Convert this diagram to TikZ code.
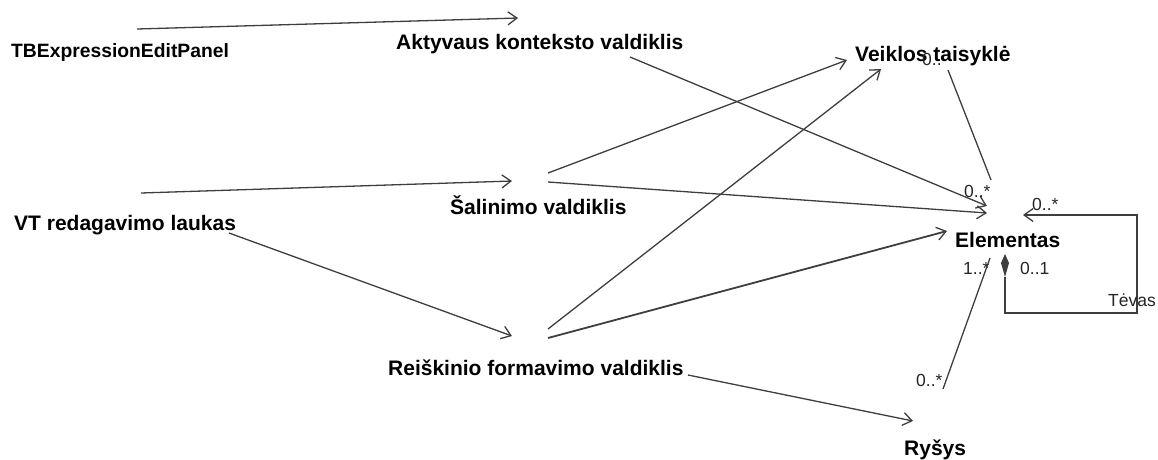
\documentclass[tikz,border=0pt]{standalone}
\usepackage{fontspec}
\setmainfont{Liberation Sans}
\usetikzlibrary{arrows.meta}
\definecolor{ink}{RGB}{62,62,62}
\tikzset{
  cls/.style={font=\bfseries\fontsize{21}{24}\selectfont, inner sep=0pt, anchor=base west, text=black},
  smallcls/.style={cls, font=\bfseries\fontsize{19.3}{22}\selectfont},
  mult/.style={font=\fontsize{17.5}{20}\selectfont, inner sep=0pt, anchor=base west, text=black!85},
  dep/.style={draw=ink, line width=1.3pt, -{Straight Barb[length=9pt,width=13pt,line width=1.3pt]}},
  assoc/.style={draw=ink, line width=1.3pt},
}
\begin{document}
\begin{tikzpicture}[x=1pt,y=-1pt]
\useasboundingbox (0,0) rectangle (1158,459);

% classes
\node[smallcls] (tb)   at (11,57)   {TBExpressionEditPanel};
\node[cls]      (akt)  at (396,49)  {Aktyvaus konteksto valdiklis};
\node[cls]      (veik) at (855,61)  {Veiklos taisyklė};
\node[cls]      (vt)   at (14,230)  {VT redagavimo laukas};
\node[cls]      (sal)  at (450,214) {Šalinimo valdiklis};
\node[cls]      (elem) at (955,247) {Elementas};
\node[cls]      (reis) at (388,375) {Reiškinio formavimo valdiklis};
\node[cls]      (rys)  at (904,455) {Ryšys};

% attachment points of the connectors
\coordinate (tb-o)   at (137,29);
\coordinate (akt-i)  at (518,18);
\coordinate (akt-o)  at (630,57);
\coordinate (vt-o1)  at (141,193);
\coordinate (vt-o2)  at (229,233);
\coordinate (sal-i)  at (512,181);
\coordinate (sal-o1) at (548,173);
\coordinate (sal-o2) at (548,182);
\coordinate (reis-i) at (512,336);
\coordinate (reis-o1) at (548,329);
\coordinate (reis-o2) at (548,338);
\coordinate (reis-o3) at (688,375);
\coordinate (veik-i1) at (847,60);
\coordinate (veik-i2) at (881,69);
\coordinate (veik-a) at (948,70);
\coordinate (elem-a) at (987,206);
\coordinate (elem-b) at (987,213);
\coordinate (elem-c) at (947,231);
\coordinate (elem-d) at (991,180);
\coordinate (elem-e) at (990,258);
\coordinate (rys-i)  at (913,421);
\coordinate (rys-a)  at (943,389);

% dependencies
\draw[dep] (tb-o) -- (akt-i);
\draw[dep] (akt-o) -- (elem-a);
\draw[dep] (vt-o1) -- (sal-i);
\draw[dep] (vt-o2) -- (reis-i);
\draw[dep] (sal-o1) -- (veik-i1);
\draw[dep] (sal-o2) -- (elem-b);
\draw[dep] (reis-o1) -- (veik-i2);
\draw[dep, line width=1.8pt] (reis-o2) -- (elem-c);
\draw[dep] (reis-o3) -- (rys-i);

% associations
\draw[assoc] (veik-a) -- (elem-d);
\draw[assoc] (rys-a) -- (elem-e);

% composition of Elementas with itself (parent)
\coordinate (dia-t) at (1005,254);
\coordinate (dia-l) at (1001,263);
\coordinate (dia-r) at (1009,263);
\coordinate (dia-b) at (1005,277);
\coordinate (loop-bl) at (1005,313);
\coordinate (loop-br) at (1137,313);
\coordinate (loop-tr) at (1137,215);
\coordinate (elem-f) at (1023,215);
\fill[ink] (dia-t) -- (dia-r) -- (dia-b) -- (dia-l) -- cycle;
\draw[dep] (dia-b) -- (loop-bl) -- (loop-br) -- (loop-tr) -- (elem-f);

% multiplicities and role
\node[mult] (m1) at (922,65)   {0..};
\node[mult] (m2) at (964,197)  {0..*};
\node[mult] (m3) at (1032,210) {0..*};
\node[mult] (m4) at (963,274)  {1..*};
\node[mult] (m5) at (1020,274) {0..1};
\node[mult] (m6) at (916,386)  {0..*};
\node[mult] (role) at (1108,306) {Tėvas};
\end{tikzpicture}
\end{document}
